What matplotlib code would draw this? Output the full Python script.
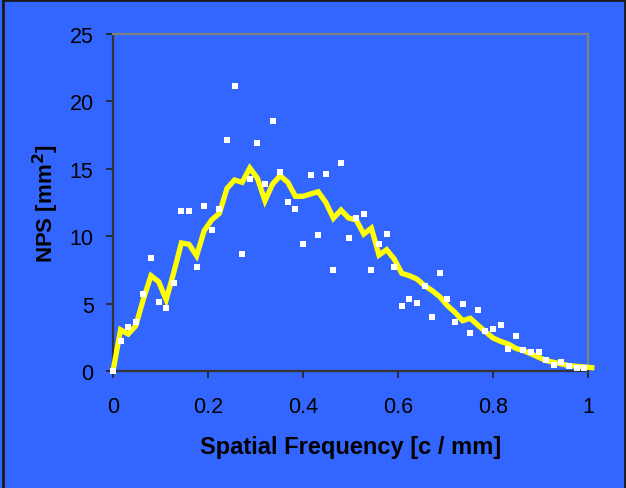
import matplotlib.pyplot as plt
from matplotlib.lines import Line2D

plt.rcParams['font.family'] = ['Liberation Sans', 'DejaVu Sans']

# spatial frequency step (c/mm)
step = 0.016

# measured NPS points (white squares)
nps_points = [0.0, 2.2, 3.24, 3.6, 5.74, 8.36, 5.14, 4.7, 6.5, 11.87,
              11.87, 7.69, 12.24, 10.46, 12.0, 17.14, 21.17, 8.68, 14.24, 16.94,
              13.85, 18.57, 14.79, 12.56, 12.04, 9.4, 14.52, 10.07, 14.59, 7.52,
              15.43, 9.87, 11.35, 11.62, 7.49, 9.4, 10.16, 7.69, 4.82, 5.34,
              5.07, 6.33, 3.98, 7.29, 5.34, 3.66, 4.95, 2.8, 4.55, 2.99,
              3.12, 3.39, 1.61, 2.6, 1.56, 1.41, 1.41, 0.79, 0.45, 0.64,
              0.37, 0.22, 0.22]

# smoothed NPS curve (yellow line)
nps_smooth = [0.0, 3.06, 2.74, 3.36, 5.34, 7.07, 6.63, 5.29, 7.32, 9.5,
              9.4, 8.55, 10.41, 11.22, 11.7, 13.55, 14.17, 14.0, 15.06, 14.3,
              12.63, 13.87, 14.49, 14.0, 12.96, 12.96, 13.13, 13.3, 12.51, 11.33,
              11.94, 11.35, 11.2, 10.16, 10.6, 8.6, 9.0, 8.31, 7.25, 7.07,
              6.82, 6.33, 5.96, 5.51, 4.85, 4.35, 3.73, 3.91, 3.41, 2.92,
              2.45, 2.2, 2.0, 1.68, 1.51, 1.28, 1.02, 0.77, 0.64, 0.52,
              0.4, 0.35, 0.3, 0.25]

freq_points = [i * step for i in range(len(nps_points))]
freq_smooth = [i * step for i in range(len(nps_smooth))]

xticks = [0, 0.2, 0.4, 0.6, 0.8, 1]
xticklabels = ['0', '0.2', '0.4', '0.6', '0.8', '1']
yticks = [0, 5, 10, 15, 20, 25]

bg = '#3366ff'

fig = plt.figure(figsize=(6.26, 4.89), dpi=100, facecolor=bg)
ax = fig.add_axes([113/626, 1 - 372/489, 475/626, 337/489])
ax.set_facecolor(bg)

ax.plot(freq_smooth, nps_smooth, color='#ffff00', lw=3.8, zorder=3, clip_on=False,
        solid_joinstyle='miter')
ax.plot(freq_points, nps_points, 's', color='white', ms=3.8, mec='white', mew=0,
        zorder=4, clip_on=False)

ax.set_xlim(0, 1)
ax.set_ylim(0, 25)
ax.set_xticks(xticks)
ax.set_xticklabels(xticklabels)
ax.set_yticks(yticks)

for s in ['left', 'bottom']:
    ax.spines[s].set_color('#333333')
    ax.spines[s].set_linewidth(1.6)
for s in ['top', 'right']:
    ax.spines[s].set_color('#808080')
    ax.spines[s].set_linewidth(1.6)

ax.tick_params(direction='out', length=5, width=1.2, color='#222222', labelsize=15.5)
ax.tick_params(axis='x', pad=13)
ax.tick_params(axis='y', pad=9)

ax.set_xlabel('Spatial Frequency [c / mm]', fontsize=17, fontweight='bold', labelpad=13)
ax.set_ylabel('NPS [mm$^\\mathbf{2}$]', fontsize=16, fontweight='bold', labelpad=6)

# outer frame of the chart area
fig.add_artist(Line2D([3/626, 3/626], [0, 1 - 1/489], transform=fig.transFigure,
                      color='#1a1a1a', lw=2))
fig.add_artist(Line2D([3/626, 625/626], [1 - 1/489, 1 - 1/489], transform=fig.transFigure,
                      color='#1a1a1a', lw=2))
fig.add_artist(Line2D([625/626, 625/626], [0, 1 - 1/489], transform=fig.transFigure,
                      color='#1a1a1a', lw=2))

fig.savefig('out.png', dpi=100, facecolor=bg)
